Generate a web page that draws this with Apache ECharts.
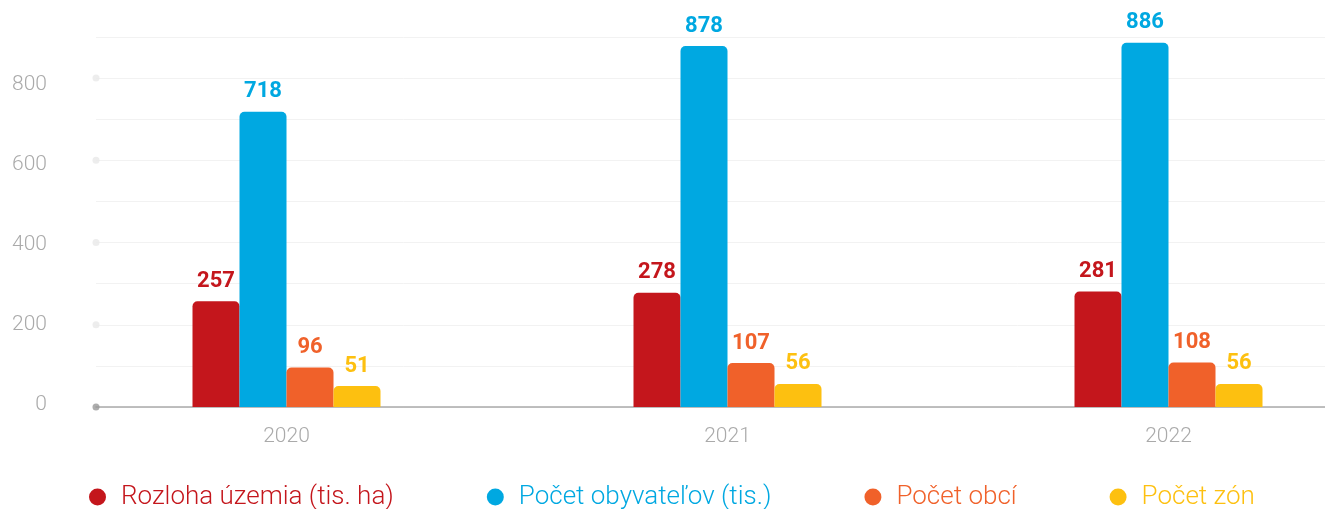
<!DOCTYPE html>
<html>
<head>
<meta charset="utf-8">
<script src="https://cdn.jsdelivr.net/npm/echarts@6/dist/echarts.min.js"></script>
<style>
  html, body { margin: 0; padding: 0; background: #fff; }
  #chart { width: 1325px; height: 509px; }
</style>
</head>
<body>
<div id="chart"></div>
<script>
var years = ['2020', '2021', '2022'];
var seriesNames = ['Rozloha územia (tis. ha)', 'Počet obyvateľov (tis.)', 'Počet obcí', 'Počet zón'];
var rozloha = [257, 278, 281];
var obyvatelia = [718, 878, 886];
var obce = [96, 107, 108];
var zony = [51, 56, 56];
var tickValues = [0, 200, 400, 600, 800];
var colors = ['#c4161c', '#00a8e1', '#f0612a', '#fdc010'];

var chart = echarts.init(document.getElementById('chart'));

function barSeries(name, values, color) {
  return {
    name: name,
    type: 'bar',
    xAxisIndex: 1,
    yAxisIndex: 1,
    barWidth: 47,
    barGap: '0%',
    itemStyle: {
      color: color,
      borderRadius: [5, 5, 0, 0]
    },
    label: {
      show: true,
      position: 'top',
      distance: 9,
      color: color,
      fontSize: 22,
      fontWeight: 'bold',
      fontFamily: 'Roboto'
    },
    data: values
  };
}

var allValues = [rozloha, obyvatelia, obce, zony];
var series = seriesNames.map(function (n, i) {
  return barSeries(n, allValues[i], colors[i]);
});
// bodky na osi y
series.push({
  type: 'scatter',
  xAxisIndex: 0,
  yAxisIndex: 0,
  silent: true,
  clip: false,
  symbolSize: 7,
  z: 5,
  itemStyle: {
    color: function (p) { return p.data[1] === 0 ? '#999' : '#e8e8e8'; }
  },
  data: tickValues.map(function (v) { return [0, v]; })
});

var option = {
  animation: false,
  textStyle: { fontFamily: 'Roboto' },
  grid: [
    { left: 96, right: 0, top: 37, bottom: 102 },
    { left: 66, width: 1323, top: 37, bottom: 102, outerBoundsMode: 'none' },
    { left: 96, right: 0, top: 85, bottom: 104 }
  ],
  xAxis: [{
    gridIndex: 0,
    type: 'value',
    min: 0,
    max: 1,
    axisLine: { show: true, lineStyle: { color: '#aaa', width: 1.5 } },
    axisTick: { show: false },
    axisLabel: { show: false },
    splitLine: { show: false }
  }, {
    gridIndex: 1,
    type: 'category',
    data: years,
    axisLine: { show: false },
    axisTick: { show: false },
    axisLabel: { color: '#aaa', fontSize: 21, fontWeight: 300, margin: 19 }
  }, {
    gridIndex: 2,
    type: 'value',
    show: false
  }],
  yAxis: [{
    gridIndex: 0,
    type: 'value',
    min: 0,
    max: 900,
    interval: 100,
    axisLine: { show: false },
    axisTick: { show: false },
    axisLabel: { show: false },
    splitLine: { lineStyle: { color: '#f2f2f2', width: 1 } }
  }, {
    gridIndex: 1,
    type: 'value',
    min: 0,
    max: 900,
    show: false,
    splitLine: { show: false }
  }, {
    gridIndex: 2,
    type: 'value',
    min: 0,
    max: 800,
    interval: 200,
    axisLine: { show: false },
    axisTick: { show: false },
    splitLine: { show: false },
    axisLabel: { color: '#aaa', fontSize: 21, fontWeight: 300, margin: 49 }
  }],
  legend: {
    top: 479,
    left: 84,
    icon: 'circle',
    itemWidth: 17,
    itemHeight: 17,
    itemGap: 93,
    textStyle: { fontSize: 26, fontWeight: 300, padding: [0, 0, 0, 10] },
    data: seriesNames.map(function (n, i) {
      return { name: n, textStyle: { color: colors[i] } };
    })
  },
  series: series
};

chart.setOption(option);
</script>
</body>
</html>
